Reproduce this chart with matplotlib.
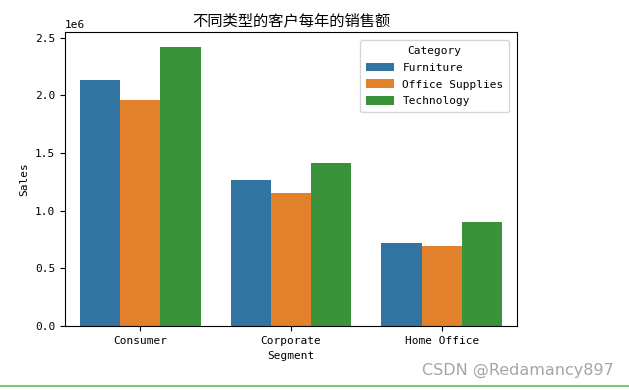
import matplotlib
matplotlib.use("Agg")
import matplotlib.pyplot as plt
import seaborn as sns
import pandas as pd

segments = ["Consumer", "Corporate", "Home Office"]
categories = ["Furniture", "Office Supplies", "Technology"]
# sales per segment, in order of categories
sales = {
    "Furniture":       [2131000, 1264000, 717000],
    "Office Supplies": [1957000, 1149000, 691000],
    "Technology":      [2422000, 1416000, 902000],
}

rows = []
for cat in categories:
    for seg, v in zip(segments, sales[cat]):
        rows.append({"Segment": seg, "Category": cat, "Sales": v})
df = pd.DataFrame(rows)

plt.rcParams['font.family'] = ['DejaVu Sans Mono', 'Noto Sans CJK SC']
plt.rcParams['font.size'] = 8

fig = plt.figure(figsize=(6.29, 3.90), dpi=100)
ax = fig.add_axes([0.1033, 0.164, 0.7187, 0.754])

sns.barplot(data=df, x="Segment", y="Sales", hue="Category", ax=ax,
            order=segments, hue_order=categories, errorbar=None)

ax.set_ylim(0, 2.549e6)
ax.set_title("不同类型的客户每年的销售额", fontsize=11, pad=5)
ax.set_xlabel("Segment")
ax.set_ylabel("Sales")
ax.legend(title="Category", loc="upper right", fontsize=8, title_fontsize=8,
          labelspacing=0.6, handlelength=2.5, handleheight=0.8,
          borderpad=0.5, bbox_to_anchor=(0.995, 0.99))

# watermark & page line from the screenshot
fig.text(0.975, 0.05, "CSDN @Redamancy897", ha="right", va="center",
         fontsize=11.5, color="#a6a6a6", family="DejaVu Sans")
fig.add_artist(plt.Line2D([0, 1], [0.01, 0.01], color="#5cbf5c", lw=1.2))

fig.savefig("out.png", dpi=100)
